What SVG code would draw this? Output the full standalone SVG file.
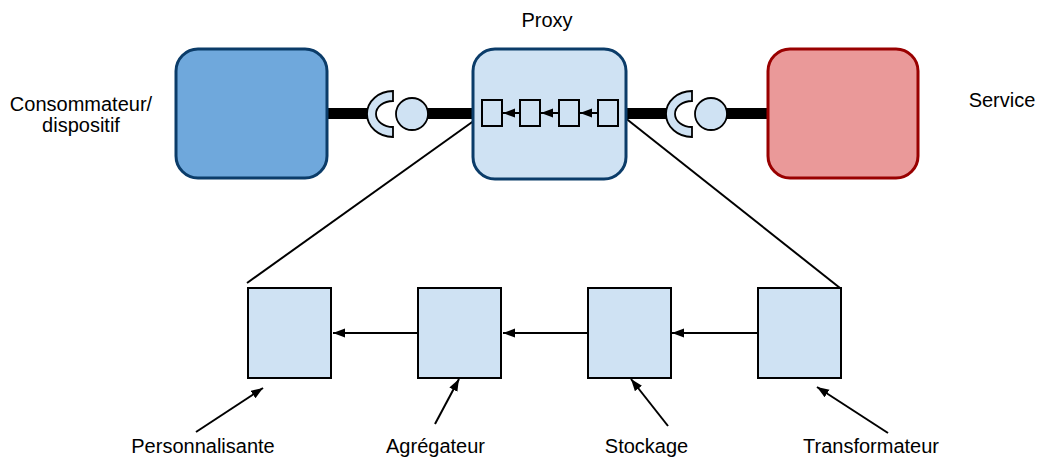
<svg xmlns="http://www.w3.org/2000/svg" width="1039" height="460" viewBox="0 0 1039 460">
<style>
text{font-family:"Liberation Sans",Arial,sans-serif;font-size:20px;fill:#000;text-anchor:middle}
.big{stroke-width:3}
.thick{stroke:#000;stroke-width:11;fill:none}
.lite{fill:#cfe2f3;stroke:#000;stroke-width:1.8}
.sq{fill:#cfe2f3;stroke:#000;stroke-width:2}
.ln{stroke:#000;stroke-width:2;fill:none}
.ar{stroke:#000;stroke-width:2;fill:none;marker-end:url(#ah)}
</style>
<defs>
<marker id="ah" markerUnits="userSpaceOnUse" markerWidth="13" markerHeight="10" refX="12" refY="4.5" orient="auto">
<path d="M0,0 L12,4.5 L0,9 z" fill="#000"/>
</marker>
</defs>
<g id="connectors">
<line class="thick" x1="327" y1="113.5" x2="368" y2="113.5"/>
<line class="thick" x1="418" y1="113.5" x2="473" y2="113.5"/>
<line class="thick" x1="626" y1="113.5" x2="667" y2="113.5"/>
<line class="thick" x1="718" y1="113.5" x2="768" y2="113.5"/>
<line class="ln" x1="482" y1="115" x2="247" y2="283"/>
<line class="ln" x1="619" y1="113" x2="840" y2="288"/>
<line class="ar" x1="418" y1="333" x2="333" y2="333"/>
<line class="ar" x1="588" y1="333" x2="503" y2="333"/>
<line class="ar" x1="758" y1="333" x2="672" y2="333"/>
<line class="ar" x1="196" y1="432" x2="263" y2="388"/>
<line class="ar" x1="435" y1="424" x2="459" y2="379"/>
<line class="ar" x1="668" y1="426" x2="631" y2="379"/>
<line class="ar" x1="888" y1="433" x2="817" y2="387"/>
</g>
<g id="consommateur">
<rect class="big" x="176" y="49" width="151" height="129" rx="22" fill="#6fa8dc" stroke="#0b3c69"/>
<text x="81" y="111">Consommateur/</text>
<text x="81" y="132">dispositif</text>
</g>
<g id="interface-left">
<path class="lite" d="M393,91 A26,23 0 0 0 393,137 L393,127 A17,13 0 0 1 393,101 Z"/>
<circle class="lite" cx="412" cy="114" r="16"/>
</g>
<g id="proxy">
<rect class="big" x="473" y="49" width="153" height="130" rx="22" fill="#cfe2f3" stroke="#0b3c69"/>
<text x="547" y="27">Proxy</text>
<rect class="sq" x="482" y="100" width="20" height="26"/>
<rect class="sq" x="520" y="100" width="20" height="26"/>
<rect class="sq" x="559" y="100" width="20" height="26"/>
<rect class="sq" x="598" y="100" width="20" height="26"/>
<line class="ar" x1="520" y1="113" x2="503" y2="113"/>
<line class="ar" x1="559" y1="113" x2="541" y2="113"/>
<line class="ar" x1="598" y1="113" x2="580" y2="113"/>
</g>
<g id="interface-right">
<path class="lite" d="M692,91 A26,23 0 0 0 692,137 L692,127 A17,13 0 0 1 692,101 Z"/>
<circle class="lite" cx="711" cy="114" r="16"/>
</g>
<g id="service">
<rect class="big" x="768" y="49" width="150" height="129" rx="22" fill="#ea9999" stroke="#990000"/>
<text x="1002" y="107">Service</text>
</g>
<g id="personnalisante">
<rect class="sq" x="248" y="288" width="83" height="90"/>
<text x="203" y="453">Personnalisante</text>
</g>
<g id="agregateur">
<rect class="sq" x="418" y="288" width="83" height="90"/>
<text x="435.5" y="453">Agrégateur</text>
</g>
<g id="stockage">
<rect class="sq" x="588" y="288" width="83" height="90"/>
<text x="646.5" y="453">Stockage</text>
</g>
<g id="transformateur">
<rect class="sq" x="758" y="288" width="83" height="90"/>
<text x="871" y="453">Transformateur</text>
</g>
</svg>
